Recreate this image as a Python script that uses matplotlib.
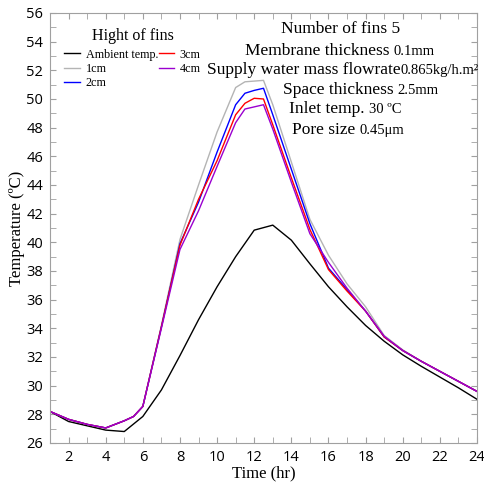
import matplotlib
matplotlib.use("Agg")
import matplotlib.pyplot as plt
from matplotlib.ticker import MultipleLocator

# ambient temperature, hourly
hours = [1, 2, 3, 4, 5, 6, 7, 8, 9, 10, 11, 12, 13, 14, 15, 16, 17, 18, 19, 20, 21, 22, 23, 24]
ambient = [28.2, 27.5, 27.2, 26.9, 26.8, 27.85, 29.7, 32.1, 34.6, 36.9, 39.0, 40.85, 41.2,
           40.15, 38.5, 36.9, 35.5, 34.2, 33.1, 32.15, 31.35, 30.6, 29.85, 29.05]

# outlet temperature for each fin height
fin_hours = [1, 2, 3, 4, 5, 5.5, 6, 7, 8, 9, 10, 11, 11.5, 12, 12.5, 13, 14, 15, 16,
             17, 18, 19, 20, 21, 22, 23, 24]
fin_1cm = [28.2, 27.65, 27.3, 27.05, 27.55, 27.85, 28.55, 34.2, 40.2, 44.0, 47.7, 50.8, 51.2,
           51.25, 51.3, 49.6, 45.6, 41.6, 39.1, 37.1, 35.5, 33.5, 32.5, 31.7, 31.0, 30.3, 29.6]
fin_2cm = [28.2, 27.65, 27.3, 27.05, 27.55, 27.85, 28.55, 34.1, 39.9, 42.8, 46.3, 49.6, 50.4,
           50.6, 50.75, 48.9, 45.1, 41.3, 38.2, 36.7, 35.2, 33.4, 32.45, 31.7, 31.0, 30.3, 29.6]
fin_3cm = [28.2, 27.65, 27.3, 27.05, 27.55, 27.85, 28.55, 34.1, 39.8, 43.0, 45.7, 48.9, 49.7,
           50.05, 50.0, 48.2, 44.5, 40.9, 38.1, 36.6, 35.2, 33.4, 32.45, 31.7, 31.0, 30.3, 29.6]
fin_4cm = [28.2, 27.65, 27.3, 27.05, 27.55, 27.85, 28.55, 34.0, 39.5, 42.2, 45.3, 48.35, 49.3,
           49.45, 49.6, 47.9, 44.2, 40.6, 38.6, 36.8, 35.2, 33.45, 32.45, 31.7, 31.0, 30.3, 29.6]

labels = ["Ambient temp.", "1cm", "2cm", "3cm", "4cm"]
colors = ["black", "#b4b4b4", "#0000ff", "#ff0000", "#9a00d0"]

serif = "Liberation Serif"

fig = plt.figure(figsize=(4.85, 4.88), dpi=100)
ax = fig.add_axes([50 / 485, 45 / 488, 427 / 485, 430 / 488])

ax.plot(hours, ambient, color=colors[0], lw=1.0, label=labels[0])
for ys, lab, c in zip([fin_1cm, fin_2cm, fin_3cm, fin_4cm], labels[1:], colors[1:]):
    ax.plot(fin_hours, ys, color=c, lw=1.0, label=lab)

ax.set_xlim(1, 24)
ax.set_ylim(26, 56)
ax.xaxis.set_major_locator(MultipleLocator(2))
ax.xaxis.set_minor_locator(MultipleLocator(1))
ax.yaxis.set_major_locator(MultipleLocator(2))
ax.yaxis.set_minor_locator(MultipleLocator(1))
ax.tick_params(which="both", direction="in", length=4, color="#a0a0a0",
               top=True, right=True, labelsize=10.5, pad=5)
for lab in ax.get_xticklabels() + ax.get_yticklabels():
    lab.set_fontfamily("Open Sans")
for sp in ax.spines.values():
    sp.set_color("#a0a0a0")

ax.set_xlabel("Time (hr)", family=serif, fontsize=12, labelpad=0)
ax.set_ylabel("Temperature (ºC)", family=serif, fontsize=12, labelpad=1)

leg = ax.legend(ncol=2, loc="upper left", bbox_to_anchor=(56 / 485, 1 - 20 / 488),
                bbox_transform=fig.transFigure, frameon=False,
                title="Hight of fins", title_fontproperties={"family": serif, "size": 11.5},
                prop={"family": serif, "size": 8.7}, handlelength=1.3, handletextpad=0.45,
                columnspacing=0.05, labelspacing=0.2, borderpad=0.2)
leg._legend_box.sep = 3


def px(x, y):
    return (x - 50) / 427, (443 - y) / 430


def info(x, y, big, small=None, gap=0):
    t = ax.text(*px(x, y), big, transform=ax.transAxes, family=serif, fontsize=12.5,
                ha="left", va="baseline")
    if small:
        ax.annotate(small, xy=(1, px(x, y)[1]), xycoords=(t, "axes fraction"),
                    xytext=(gap, 0), textcoords="offset points",
                    family=serif, fontsize=10.5, ha="left", va="baseline")


info(281, 33, "Number of fins 5")
info(245, 55, "Membrane thickness", "0.1mm", gap=3)
info(207, 74, "Supply water mass flowrate", "0.865kg/h.m²", gap=0)
info(283, 94, "Space thickness", "2.5mm", gap=3)
info(289, 113, "Inlet temp.", "30 ºC", gap=3)
info(292, 134, "Pore size", "0.45μm", gap=3)

fig.savefig("out.png", dpi=100)
